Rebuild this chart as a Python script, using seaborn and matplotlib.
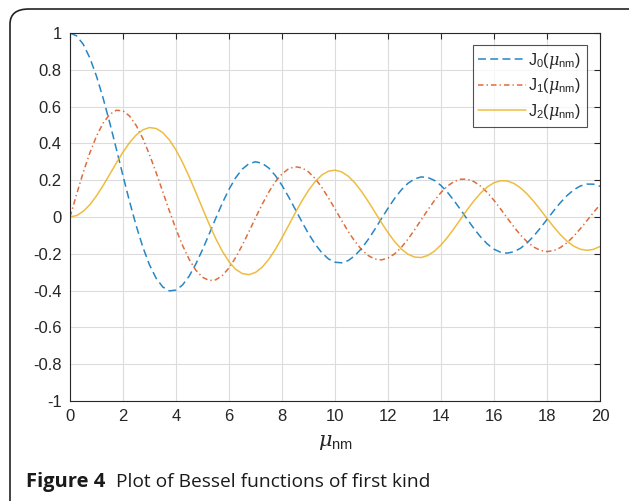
import pandas as pd
import matplotlib
matplotlib.use('Agg')
import matplotlib.pyplot as plt
import seaborn as sns
from matplotlib.patches import FancyBboxPatch

# %% --- Data (every 0.25 along the x axis) ---
mu = [0.0, 0.25, 0.5, 0.75, 1.0, 1.25, 1.5, 1.75, 2.0, 2.25, 2.5, 2.75, 3.0, 3.25,
      3.5, 3.75, 4.0, 4.25, 4.5, 4.75, 5.0, 5.25, 5.5, 5.75, 6.0, 6.25, 6.5, 6.75,
      7.0, 7.25, 7.5, 7.75, 8.0, 8.25, 8.5, 8.75, 9.0, 9.25, 9.5, 9.75, 10.0,
      10.25, 10.5, 10.75, 11.0, 11.25, 11.5, 11.75, 12.0, 12.25, 12.5, 12.75,
      13.0, 13.25, 13.5, 13.75, 14.0, 14.25, 14.5, 14.75, 15.0, 15.25, 15.5,
      15.75, 16.0, 16.25, 16.5, 16.75, 17.0, 17.25, 17.5, 17.75, 18.0, 18.25,
      18.5, 18.75, 19.0, 19.25, 19.5, 19.75, 20.0]

j0 = [1.0, 0.9844, 0.9385, 0.8642, 0.7652, 0.6459, 0.5118, 0.3690, 0.2239,
      0.0827, -0.0484, -0.1641, -0.2601, -0.3328, -0.3801, -0.4014, -0.3971,
      -0.3691, -0.3205, -0.2551, -0.1776, -0.0931, -0.0068, 0.0760, 0.1506,
      0.2131, 0.2601, 0.2894, 0.3001, 0.2920, 0.2663, 0.2252, 0.1717, 0.1092,
      0.0419, -0.0260, -0.0903, -0.1474, -0.1939, -0.2273, -0.2459, -0.2490,
      -0.2366, -0.2101, -0.1712, -0.1227, -0.0677, -0.0097, 0.0477, 0.1009,
      0.1469, 0.1829, 0.2069, 0.2178, 0.2150, 0.1990, 0.1711, 0.1331, 0.0875,
      0.0374, -0.0142, -0.0641, -0.1092, -0.1469, -0.1749, -0.1917, -0.1964,
      -0.1889, -0.1699, -0.1406, -0.1034, -0.0598, -0.0134, 0.0332, 0.0772,
      0.1157, 0.1466, 0.1681, 0.1789, 0.1784, 0.1670]

j1 = [0.0, 0.1240, 0.2423, 0.3492, 0.4401, 0.5106, 0.5579, 0.5802, 0.5767,
      0.5484, 0.4971, 0.4260, 0.3391, 0.2411, 0.1374, 0.0332, -0.0660, -0.1555,
      -0.2311, -0.2892, -0.3276, -0.3451, -0.3414, -0.3180, -0.2767, -0.2207,
      -0.1538, -0.0803, -0.0047, 0.0686, 0.1352, 0.1916, 0.2346, 0.2622, 0.2731,
      0.2672, 0.2453, 0.2092, 0.1613, 0.1048, 0.0435, -0.0190, -0.0789, -0.1325,
      -0.1768, -0.2093, -0.2284, -0.2331, -0.2234, -0.2004, -0.1655, -0.1212,
      -0.0703, -0.0161, 0.0380, 0.0889, 0.1334, 0.1689, 0.1934, 0.2057, 0.2051,
      0.1919, 0.1671, 0.1326, 0.0904, 0.0433, -0.0058, -0.0537, -0.0977,
      -0.1350, -0.1632, -0.1814, -0.1880, -0.1829, -0.1666, -0.1403, -0.1057,
      -0.0650, -0.0210, 0.0240, 0.0668]

j2 = [0.0, 0.0078, 0.0307, 0.0671, 0.1150, 0.1711, 0.2321, 0.2940, 0.3528,
      0.4047, 0.4461, 0.4739, 0.4862, 0.4811, 0.4586, 0.4191, 0.3641, 0.2959,
      0.2178, 0.1333, 0.0466, -0.0384, -0.1173, -0.1866, -0.2429, -0.2837,
      -0.3074, -0.3132, -0.3014, -0.2731, -0.2302, -0.1758, -0.1130, -0.0456,
      0.0224, 0.0870, 0.1448, 0.1926, 0.2279, 0.2488, 0.2546, 0.2453, 0.2216,
      0.1854, 0.1391, 0.0854, 0.0280, -0.0300, -0.0849, -0.1336, -0.1734,
      -0.2019, -0.2177, -0.2202, -0.2094, -0.1861, -0.1520, -0.1094, -0.0608,
      -0.0095, 0.0415, 0.0893, 0.1308, 0.1637, 0.1862, 0.1970, 0.1957, 0.1825,
      0.1584, 0.1250, 0.0847, 0.0393, -0.0075, -0.0533, -0.0952, -0.1307,
      -0.1577, -0.1748, -0.1812, -0.1760, -0.1603]

labels = [r'J$_0$($\mu_{\mathrm{nm}}$)', r'J$_1$($\mu_{\mathrm{nm}}$)',
          r'J$_2$($\mu_{\mathrm{nm}}$)']
x_ticks = list(range(0, 21, 2))
y_ticks = [-1, -0.8, -0.6, -0.4, -0.2, 0, 0.2, 0.4, 0.6, 0.8, 1]
y_ticklabels = ['-1', '-0.8', '-0.6', '-0.4', '-0.2', '0', '0.2', '0.4', '0.6', '0.8', '1']

# %% --- Style ---
sns.set_theme(style="white")
plt.rcParams['font.family'] = ['Liberation Sans', 'DejaVu Sans']
plt.rcParams['mathtext.fontset'] = 'custom'
plt.rcParams['mathtext.rm'] = 'Liberation Sans'
plt.rcParams['mathtext.it'] = 'DejaVu Serif:italic'

colors = ['#0072BD', '#D95319', '#EDB120']
# MATLAB-like dash patterns (in units of line width)
styles = [(0, (5.2, 2.8)), (0, (3.6, 2.0, 0.9, 2.0)), '-']

fig = plt.figure(figsize=(6.29, 5.01), dpi=100)
ax = fig.add_axes([70 / 629, 100 / 501, 530 / 629, 368 / 501])

for ys, lab, col, ls in zip([j0, j1, j2], labels, colors, styles):
    df = pd.DataFrame({'mu': mu, 'val': ys})
    sns.lineplot(data=df, x='mu', y='val', ax=ax, color=col, linestyle=ls,
                 lw=1.1, label=lab, alpha=0.85)

ax.set_xlim(0, 20)
ax.set_ylim(-1, 1)
ax.set_xticks(x_ticks)
ax.set_yticks(y_ticks)
ax.set_yticklabels(y_ticklabels)
ax.grid(True, color='#dcdcdc', lw=0.8)
ax.tick_params(direction='in', length=4, width=0.8, colors='#262626',
               top=True, right=True, labelsize=12, pad=6)
for sp in ax.spines.values():
    sp.set_color('#262626')
    sp.set_linewidth(0.8)

ax.set_xlabel(r'$\mu_{\mathrm{nm}}$', fontsize=15, color='#262626', labelpad=6)
ax.set_ylabel('')

leg = ax.legend(loc='upper right', fontsize=11.5, frameon=True, fancybox=False,
                edgecolor='#262626', handlelength=3.0, handletextpad=0.15,
                borderpad=0.35, labelspacing=0.35, borderaxespad=0,
                bbox_to_anchor=(517 / 530, 356 / 368))
leg.get_frame().set_linewidth(0.8)
for t in leg.get_texts():
    t.set_color('#262626')

# Outer rounded frame of the figure panel
frame = FancyBboxPatch((10 / 629, -0.2), 1.2, 1.2 - 9 / 501,
                       boxstyle='round,pad=0,rounding_size=0.03',
                       transform=fig.transFigure, fill=False,
                       edgecolor='#222222', lw=1.2)
fig.patches.append(frame)

fig.text(26 / 629, 1 - 482 / 501, 'Figure 4', fontsize=14.5, fontweight='bold',
         family='Open Sans', va='center', color='#1a1a1a')
fig.text(116 / 629, 1 - 482 / 501, 'Plot of Bessel functions of first kind',
         fontsize=13.8, family='Open Sans', va='center', color='#1a1a1a')

fig.savefig('out.png', dpi=100)
